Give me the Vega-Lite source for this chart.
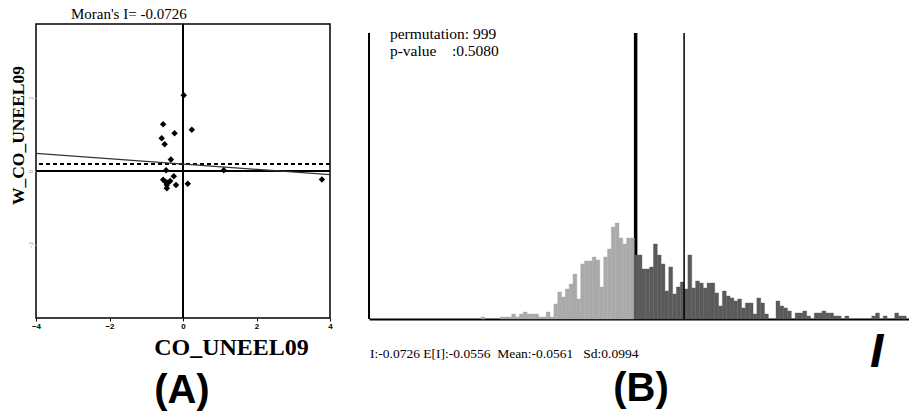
{
  "$schema": "https://vega.github.io/schema/vega-lite/v6.json",
  "background": "white",
  "padding": {"left": 8, "top": 6, "right": 0, "bottom": 0},
  "bounds": "flush",
  "spacing": 39,
  "config": {"view": {"stroke": null}, "font": "Liberation Serif"},
  "datasets": {
    "points": [
      {"x": 0.02, "y": 2.06}, {"x": -0.54, "y": 1.27}, {"x": 0.24, "y": 1.12}, {"x": -0.23, "y": 1.03},
      {"x": -0.58, "y": 0.89}, {"x": -0.5, "y": 0.73}, {"x": -0.33, "y": 0.31}, {"x": -0.46, "y": 0.02},
      {"x": -0.25, "y": -0.14}, {"x": -0.54, "y": -0.24}, {"x": -0.48, "y": -0.29}, {"x": -0.42, "y": -0.32},
      {"x": -0.35, "y": -0.27}, {"x": -0.44, "y": -0.38}, {"x": -0.19, "y": -0.38}, {"x": -0.44, "y": -0.47},
      {"x": 0.13, "y": -0.35}, {"x": 1.11, "y": 0.02}, {"x": 3.78, "y": -0.23}
    ],
    "fit": [{"x": -4, "y": 0.48}, {"x": 4, "y": -0.1}],
    "hist": [
      {"b0": -40, "b1": -39, "h": 2}, {"b0": -35, "b1": -34, "h": 2}, {"b0": -34, "b1": -33, "h": 2},
      {"b0": -33, "b1": -32, "h": 2}, {"b0": -32, "b1": -31, "h": 5}, {"b0": -31, "b1": -30, "h": 2},
      {"b0": -30, "b1": -29, "h": 5}, {"b0": -29, "b1": -28, "h": 7}, {"b0": -28, "b1": -27, "h": 5},
      {"b0": -27, "b1": -26, "h": 5}, {"b0": -26, "b1": -25, "h": 5}, {"b0": -25, "b1": -24, "h": 2},
      {"b0": -24, "b1": -23, "h": 2}, {"b0": -23, "b1": -22, "h": 7}, {"b0": -22, "b1": -21, "h": 2},
      {"b0": -21, "b1": -20, "h": 15}, {"b0": -20, "b1": -19, "h": 27}, {"b0": -19, "b1": -18, "h": 22},
      {"b0": -18, "b1": -17, "h": 30}, {"b0": -17, "b1": -16, "h": 35}, {"b0": -16, "b1": -15, "h": 45},
      {"b0": -15, "b1": -14, "h": 20}, {"b0": -14, "b1": -13, "h": 55}, {"b0": -13, "b1": -12, "h": 58},
      {"b0": -12, "b1": -11, "h": 58}, {"b0": -11, "b1": -10, "h": 62}, {"b0": -10, "b1": -9, "h": 59},
      {"b0": -9, "b1": -8, "h": 32}, {"b0": -8, "b1": -7, "h": 62}, {"b0": -7, "b1": -6, "h": 70},
      {"b0": -6, "b1": -5, "h": 92}, {"b0": -5, "b1": -4, "h": 96}, {"b0": -4, "b1": -3, "h": 81},
      {"b0": -3, "b1": -2, "h": 75}, {"b0": -2, "b1": -1, "h": 81}, {"b0": -1, "b1": 0, "h": 81},
      {"b0": 0, "b1": 1, "h": 64}, {"b0": 1, "b1": 2, "h": 64}, {"b0": 2, "b1": 3, "h": 50},
      {"b0": 3, "b1": 4, "h": 50}, {"b0": 4, "b1": 5, "h": 52}, {"b0": 5, "b1": 6, "h": 75},
      {"b0": 6, "b1": 7, "h": 64}, {"b0": 7, "b1": 8, "h": 55}, {"b0": 8, "b1": 9, "h": 28},
      {"b0": 9, "b1": 10, "h": 52}, {"b0": 10, "b1": 11, "h": 25}, {"b0": 11, "b1": 12, "h": 32},
      {"b0": 12, "b1": 13, "h": 37}, {"b0": 13, "b1": 14, "h": 30}, {"b0": 14, "b1": 15, "h": 64},
      {"b0": 15, "b1": 16, "h": 31}, {"b0": 16, "b1": 17, "h": 38}, {"b0": 17, "b1": 18, "h": 36},
      {"b0": 18, "b1": 19, "h": 31}, {"b0": 19, "b1": 20, "h": 36}, {"b0": 20, "b1": 21, "h": 36},
      {"b0": 21, "b1": 22, "h": 26}, {"b0": 22, "b1": 23, "h": 13}, {"b0": 23, "b1": 24, "h": 28},
      {"b0": 24, "b1": 25, "h": 23}, {"b0": 25, "b1": 26, "h": 21}, {"b0": 26, "b1": 27, "h": 18},
      {"b0": 27, "b1": 28, "h": 20}, {"b0": 28, "b1": 29, "h": 11}, {"b0": 29, "b1": 30, "h": 16},
      {"b0": 30, "b1": 31, "h": 16}, {"b0": 31, "b1": 32, "h": 5}, {"b0": 32, "b1": 33, "h": 21},
      {"b0": 33, "b1": 34, "h": 16}, {"b0": 34, "b1": 35, "h": 5}, {"b0": 37, "b1": 38, "h": 18},
      {"b0": 38, "b1": 39, "h": 13}, {"b0": 39, "b1": 40, "h": 11}, {"b0": 40, "b1": 41, "h": 8},
      {"b0": 42, "b1": 43, "h": 6}, {"b0": 43, "b1": 44, "h": 6}, {"b0": 44, "b1": 45, "h": 8},
      {"b0": 45, "b1": 46, "h": 3}, {"b0": 47, "b1": 48, "h": 6}, {"b0": 48, "b1": 49, "h": 6},
      {"b0": 49, "b1": 50, "h": 8}, {"b0": 50, "b1": 51, "h": 6}, {"b0": 51, "b1": 52, "h": 6},
      {"b0": 52, "b1": 53, "h": 3}, {"b0": 53, "b1": 54, "h": 3}, {"b0": 55, "b1": 56, "h": 3},
      {"b0": 62, "b1": 63, "h": 3}, {"b0": 63, "b1": 64, "h": 6}, {"b0": 65, "b1": 66, "h": 3},
      {"b0": 68, "b1": 69, "h": 6}, {"b0": 69, "b1": 70, "h": 3}, {"b0": 70, "b1": 71, "h": 3}
    ]
  },
  "hconcat": [
    {
      "width": 294,
      "height": 294,
      "view": {"stroke": "black", "strokeWidth": 1.5},
      "layer": [
        {
          "data": {"name": "points"},
          "mark": {"type": "rule", "color": "black", "strokeWidth": 1.2},
          "encoding": {"x": {"datum": 0, "type": "quantitative"}}
        },
        {
          "data": {"name": "points"},
          "mark": {"type": "rule", "color": "black", "strokeWidth": 1.2},
          "encoding": {"y": {"datum": 0, "type": "quantitative"}}
        },
        {
          "data": {"name": "points"},
          "mark": {"type": "rule", "color": "black", "strokeWidth": 1.2, "strokeDash": [4, 3]},
          "encoding": {"y": {"datum": 0.2, "type": "quantitative"}}
        },
        {
          "data": {"name": "fit"},
          "mark": {"type": "line", "color": "#333333", "strokeWidth": 1.2},
          "encoding": {
            "x": {"field": "x", "type": "quantitative"},
            "y": {"field": "y", "type": "quantitative"}
          }
        },
        {
          "data": {"name": "points"},
          "mark": {"type": "point", "shape": "diamond", "filled": true, "color": "black", "size": 42, "opacity": 1},
          "encoding": {
            "x": {
              "field": "x", "type": "quantitative",
              "scale": {"domain": [-4, 4], "nice": false, "zero": false},
              "axis": {
                "values": [-4, -2, 0, 2, 4], "title": "CO_UNEEL09",
                "titleFont": "Liberation Serif", "titleFontSize": 24, "titleFontWeight": "bold", "titleColor": "black",
                "titleX": 195, "titleY": 36, "titleAlign": "center", "titleBaseline": "alphabetic",
                "labelFont": "Liberation Sans", "labelFontSize": 8, "labelFontWeight": "bold", "labelColor": "black",
                "labelFlush": false, "labelPadding": 1, "tickSize": 3, "tickColor": "black",
                "domain": false, "grid": false
              }
            },
            "y": {
              "field": "y", "type": "quantitative",
              "scale": {"domain": [-4, 4], "nice": false, "zero": false},
              "axis": {
                "values": [-2, 0, 2], "title": "W_CO_UNEEL09",
                "titleFont": "Liberation Serif", "titleFontSize": 17.5, "titleFontWeight": "bold", "titleColor": "black",
                "titleX": -18, "titleY": 111, "titleAngle": 270, "titleAlign": "center", "titleBaseline": "middle",
                "labelFont": "Liberation Sans", "labelFontSize": 6, "labelColor": "#999999", "labelAngle": 270,
                "labelFlush": false, "labelPadding": 1, "tickSize": 2, "tickColor": "#aaaaaa",
                "domain": false, "grid": false
              }
            }
          }
        },
        {
          "data": {"values": [{}]},
          "mark": {"type": "text", "font": "Liberation Serif", "fontSize": 15, "align": "left", "baseline": "alphabetic", "color": "black"},
          "encoding": {
            "x": {"datum": -3.05, "type": "quantitative"},
            "y": {"datum": 4.14, "type": "quantitative"},
            "text": {"value": "Moran's I= -0.0726"}
          }
        },
        {
          "data": {"values": [{}]},
          "mark": {"type": "text", "font": "Liberation Sans", "fontSize": 40, "fontWeight": "bold", "align": "center", "baseline": "alphabetic", "color": "black"},
          "encoding": {
            "x": {"datum": -0.03, "type": "quantitative"},
            "y": {"datum": -6.3, "type": "quantitative"},
            "text": {"value": "(A)"}
          }
        }
      ]
    },
    {
      "width": 540,
      "height": 295,
      "layer": [
        {
          "data": {"values": [{}]},
          "mark": {"type": "rule", "color": "black", "strokeWidth": 3.5},
          "encoding": {
            "x": {"datum": 0.35, "type": "quantitative"},
            "y": {"datum": 0, "type": "quantitative", "axis": null},
            "y2": {"datum": 286}
          }
        },
        {
          "data": {"name": "hist"},
          "mark": {"type": "rect", "strokeWidth": 0.4},
          "encoding": {
            "x": {
              "field": "b0", "type": "quantitative",
              "scale": {"domain": [-69.27, 71.72], "nice": false, "zero": false},
              "axis": {"domain": true, "domainColor": "black", "domainWidth": 2, "ticks": false, "labels": false, "title": null, "grid": false}
            },
            "x2": {"field": "b1"},
            "y": {"field": "h", "type": "quantitative", "scale": {"domain": [0, 295], "nice": false}, "axis": null},
            "y2": {"datum": 0},
            "color": {"condition": {"test": "datum.b0 < 0", "value": "#aaaaaa"}, "value": "#5a5a5a"},
            "stroke": {"condition": {"test": "datum.b0 < 0", "value": "#aaaaaa"}, "value": "#5a5a5a"}
          }
        },
        {
          "data": {"values": [{}]},
          "mark": {"type": "rule", "color": "black", "strokeWidth": 1.5},
          "encoding": {
            "x": {"datum": 13, "type": "quantitative"},
            "y": {"datum": 0, "type": "quantitative"},
            "y2": {"datum": 286}
          }
        },
        {
          "data": {"values": [{}]},
          "mark": {"type": "rule", "color": "black", "strokeWidth": 2},
          "encoding": {
            "x": {"datum": -69.27, "type": "quantitative"},
            "y": {"datum": 0, "type": "quantitative"},
            "y2": {"datum": 286}
          }
        },
        {
          "data": {"values": [{}]},
          "mark": {"type": "text", "font": "Liberation Serif", "fontSize": 15.5, "align": "left", "baseline": "alphabetic", "color": "black"},
          "encoding": {
            "x": {"datum": -63.8, "type": "quantitative"},
            "y": {"datum": 280.5, "type": "quantitative"},
            "text": {"value": "permutation: 999"}
          }
        },
        {
          "data": {"values": [{}]},
          "mark": {"type": "text", "font": "Liberation Serif", "fontSize": 15.5, "align": "left", "baseline": "alphabetic", "color": "black"},
          "encoding": {
            "x": {"datum": -63.8, "type": "quantitative"},
            "y": {"datum": 263, "type": "quantitative"},
            "text": {"value": "p-value\u00a0\u00a0\u00a0\u00a0:0.5080"}
          }
        },
        {
          "data": {"values": [{}]},
          "mark": {"type": "text", "font": "Liberation Serif", "fontSize": 13.5, "align": "left", "baseline": "alphabetic", "color": "black"},
          "encoding": {
            "x": {"datum": -69, "type": "quantitative"},
            "y": {"datum": -39, "type": "quantitative"},
            "text": {"value": "I:-0.0726 E[I]:-0.0556\u00a0\u00a0Mean:-0.0561\u00a0\u00a0\u00a0Sd:0.0994"}
          }
        },
        {
          "data": {"values": [{}]},
          "mark": {"type": "text", "font": "Liberation Sans", "fontSize": 48, "fontWeight": "bold", "fontStyle": "italic", "align": "center", "baseline": "alphabetic", "color": "black"},
          "encoding": {
            "x": {"datum": 63.3, "type": "quantitative"},
            "y": {"datum": -48, "type": "quantitative"},
            "text": {"value": "I"}
          }
        },
        {
          "data": {"values": [{}]},
          "mark": {"type": "text", "font": "Liberation Sans", "fontSize": 40, "fontWeight": "bold", "align": "center", "baseline": "alphabetic", "color": "black"},
          "encoding": {
            "x": {"datum": 1.75, "type": "quantitative"},
            "y": {"datum": -82, "type": "quantitative"},
            "text": {"value": "(B)"}
          }
        }
      ]
    }
  ]
}
